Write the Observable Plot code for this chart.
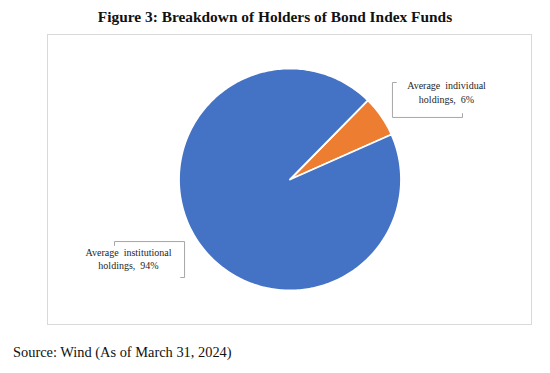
<!DOCTYPE html>
<html>
<head>
<meta charset="utf-8">
<script src="https://cdn.jsdelivr.net/npm/d3@7"></script>
<script src="https://cdn.jsdelivr.net/npm/@observablehq/plot@0.6"></script>
<style>
  html, body { margin: 0; padding: 0; background: #fff; }
  #title { height: 30px; box-sizing: border-box; padding-top: 8px; line-height: 18px; text-align: center;
           font: bold 15.4px "Liberation Serif", "Times New Roman", serif; color: #111; }
  #chart svg { display: block; }
  #source { padding-top: 14px; padding-left: 13px; line-height: 16px;
            font: 14.4px "Liberation Serif", "Times New Roman", serif; color: #111; }
</style>
</head>
<body>
<div id="title">Figure 3: Breakdown of Holders of Bond Index Funds</div>
<div id="chart"></div>
<div id="source">Source: Wind (As of March 31, 2024)</div>
<script>
// ---- data ----
const categories = ["Average individual holdings", "Average institutional holdings"];
const values = [6, 94];
const labelLines = ["Average  individual\nholdings,  6%", "Average  institutional\nholdings,  94%"];
const colors = ["#ED7D31", "#4472C4"];

// ---- layout (style) ----
const W = 550, H = 300;
const cx = 289.5, cy = 149, R = 111;
const startDeg = 44.5;
// label positions in pie units (radius = 1)
const labelPos = [[1.41, 0.79], [-1.455, -0.71]];
// callout brackets in pie units: [x1, x2, y1, y2]
const brackets = [[0.923, 1.554, 0.874, 0.559], [-1.581, -0.950, -0.559, -0.883]];

const pie = d3.pie().sort(null).value(d => d.value)
  .startAngle(startDeg * Math.PI / 180).endAngle(startDeg * Math.PI / 180 + 2 * Math.PI);
const arcs = pie(categories.map((c, i) => ({cat: c, value: values[i]})));

const pts = [];
arcs.forEach(a => {
  const c = a.data.cat;
  pts.push({cat: c, x: 0, y: 0});
  const n = Math.max(2, Math.ceil((a.endAngle - a.startAngle) / (Math.PI / 180)));
  for (let k = 0; k <= n; k++) {
    const t = a.startAngle + (a.endAngle - a.startAngle) * k / n;
    pts.push({cat: c, x: Math.sin(t), y: Math.cos(t)});
  }
  pts.push({cat: c, x: 0, y: 0});
});

const labels = categories.map((c, i) => ({cat: c, text: labelLines[i], x: labelPos[i][0], y: labelPos[i][1]}));

const bracketPts = [];
const tk = 0.035;
brackets.forEach(([x1, x2, y1, y2], i) => {
  if (i === 0) {
    [[x1 + tk, y1], [x1, y1], [x1, y2], [x2, y2], [x2, y2 + tk]].forEach(([x, y]) => bracketPts.push({id: i, x, y}));
  } else {
    [[x1, y1 - tk], [x1, y1], [x2, y1], [x2, y2], [x2 - tk, y2]].forEach(([x, y]) => bracketPts.push({id: i, x, y}));
  }
});

const chart = Plot.plot({
  width: W, height: H,
  marginLeft: 47, marginRight: 19, marginTop: 4, marginBottom: 6,
  x: {domain: [-1, 1], range: [cx - R, cx + R], axis: null},
  y: {domain: [-1, 1], range: [cy + R, cy - R], axis: null},
  color: {domain: categories, range: colors},
  style: {fontFamily: "'Liberation Serif', 'Times New Roman', serif", background: "#fff"},
  marks: [
    Plot.frame({stroke: "#d9d9d9", strokeWidth: 1}),
    Plot.line(pts, {x: "x", y: "y", z: "cat", fill: "cat", stroke: "#fff", strokeWidth: 1.8, strokeLinejoin: "round"}),
    Plot.line(bracketPts, {x: "x", y: "y", z: "id", stroke: "#a6a6a6", strokeWidth: 1}),
    Plot.text(labels, {x: "x", y: "y", text: "text", fontSize: 10, fill: "#262626", lineHeight: 1.35, textAnchor: "middle"})
  ]
});
document.getElementById("chart").appendChild(chart);
</script>
</body>
</html>
